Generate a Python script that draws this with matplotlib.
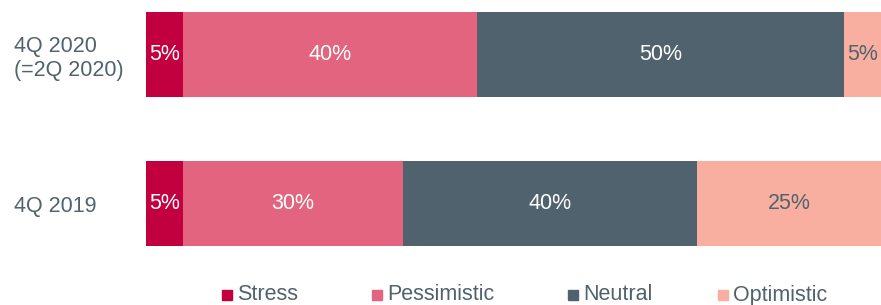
import matplotlib
matplotlib.use('Agg')
import matplotlib.pyplot as plt
from matplotlib.patches import Rectangle

plt.rcParams['font.family'] = ['Liberation Sans', 'DejaVu Sans']

categories = ['4Q 2019', '4Q 2020\n(=2Q 2020)']
scenarios = ['Stress', 'Pessimistic', 'Neutral', 'Optimistic']
values = {
    'Stress': [5, 5],
    'Pessimistic': [30, 40],
    'Neutral': [40, 50],
    'Optimistic': [25, 5],
}
colors = ['#C2003F', '#E3647E', '#51626F', '#F9AF9F']
text_colors = ['white', 'white', 'white', '#51626F']
gray = '#51626F'
fs = 15.5

W, H = 881, 305
fig = plt.figure(figsize=(W / 100, H / 100), dpi=100)
ax = fig.add_axes([146 / W, 1 - 246 / H, (W - 146) / W, 234 / H])

ypos = [0, 1]
left = [0, 0]
for name, c, tc in zip(scenarios, colors, text_colors):
    vals = values[name]
    ax.barh(ypos, vals, left=left, height=0.57, color=c, edgecolor='none')
    for y, v, l in zip(ypos, vals, left):
        ax.text(l + v / 2, y, f'{v}%', ha='center', va='center',
                color=tc, fontsize=fs)
    left = [l + v for l, v in zip(left, vals)]

ax.set_xlim(0, 100)
ax.set_ylim(-0.285, 1.285)
ax.set_yticks(ypos)
ax.set_yticklabels(categories, fontsize=fs, color=gray, ha='left')
# pad is in points: labels start ~14 px from the figure edge
ax.tick_params(axis='y', length=0, pad=(146 - 14) * 0.72)
ax.set_xticks([])
for s in ax.spines.values():
    s.set_visible(False)

# legend, placed by hand
leg_x = [222, 372, 568, 718]
for name, c, x in zip(scenarios, colors, leg_x):
    fig.patches.append(Rectangle((x / W, 1 - 300 / H), 10 / W, 10 / H,
                                 transform=fig.transFigure, color=c))
    fig.text((x + 15) / W, 1 - 295 / H, name, ha='left', va='center',
             fontsize=fs, color=gray)

fig.savefig('out.png', dpi=100)
